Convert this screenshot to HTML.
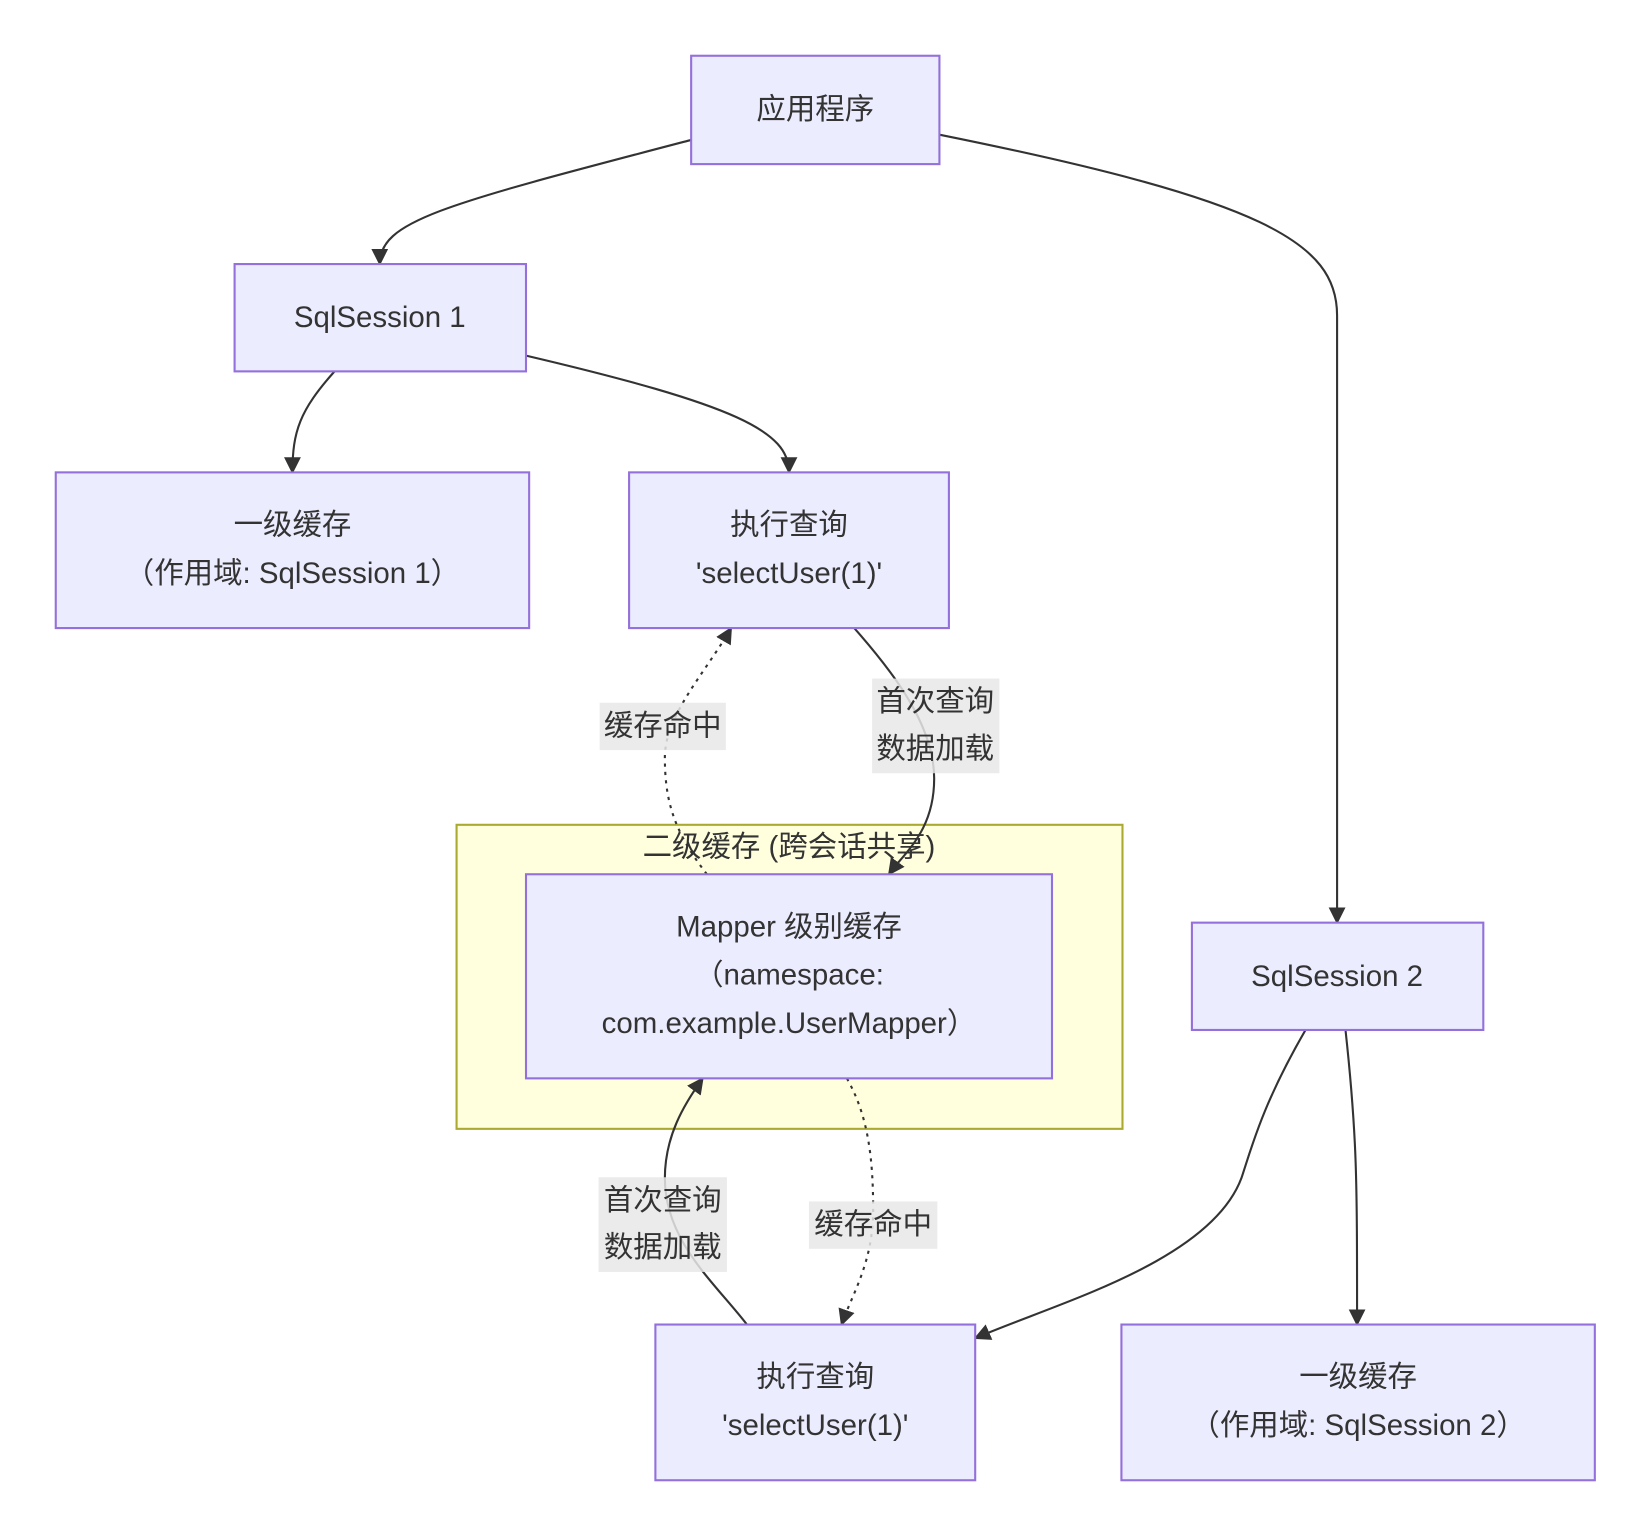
<!DOCTYPE html>
<html><head><meta charset="utf-8"><style>
html,body{margin:0;padding:0;background:#fff;}
svg{display:block;}
text{font-family:"Liberation Sans","Noto Sans CJK SC",sans-serif;font-size:28px;fill:#333;text-anchor:middle;dominant-baseline:central;}
.n{fill:#ececff;stroke:#9370db;stroke-width:2;}
.e{fill:none;stroke:#333;stroke-width:2;}
.d{stroke-dasharray:3 5;}
.lb{fill:#e8e8e8;opacity:0.85;}
</style></head><body>
<svg width="1649" height="1536" viewBox="0 0 1567.5 1460" preserveAspectRatio="none" xmlns="http://www.w3.org/2000/svg">
<defs><marker id="a" viewBox="0 0 10 10" refX="9" refY="5" markerWidth="8" markerHeight="8" orient="auto"><path d="M0,0L10,5L0,10z" fill="#333"/></marker></defs>

<rect x="434" y="784" width="633" height="289" fill="#ffffde" stroke="#aaaa33" stroke-width="2"/>
<text x="750" y="805">二级缓存 (跨会话共享)</text>

<path class="e" marker-end="url(#a)" d="M657,133 C420,195 361,210 361,251"/>
<path class="e" marker-end="url(#a)" d="M893,128 C1200,190 1271,230 1271,300 L1271,877"/>
<path class="e" marker-end="url(#a)" d="M318,353 C285,390 278,410 278,449"/>
<path class="e" marker-end="url(#a)" d="M500,338 C700,385 750,410 750,449"/>
<path class="e" marker-end="url(#a)" d="M812,597 C850,640 888,690 888,740 C888,790 860,810 845,831"/>
<path class="e d" marker-end="url(#a)" d="M672,831 C640,790 632,760 632,720 C632,680 670,640 695,597"/>
<path class="e" marker-end="url(#a)" d="M710,1259 C680,1220 632,1180 632,1120 C632,1080 650,1050 668,1025"/>
<path class="e d" marker-end="url(#a)" d="M805,1025 C825,1060 830,1100 830,1150 C830,1200 810,1230 800,1259"/>
<path class="e" marker-end="url(#a)" d="M1241,979 C1200,1050 1190,1090 1180,1120 C1150,1200 1000,1240 927,1272"/>
<path class="e" marker-end="url(#a)" d="M1279,979 C1290,1080 1290,1120 1290,1259"/>

<rect class="lb" x="570" y="668" width="120" height="45"/>
<text x="630" y="690">缓存命中</text>
<rect class="lb" x="829" y="645" width="121" height="90"/>
<text x="889" y="667">首次查询</text><text x="889" y="712">数据加载</text>
<rect class="lb" x="569" y="1119" width="122" height="90"/>
<text x="630" y="1141">首次查询</text><text x="630" y="1186">数据加载</text>
<rect class="lb" x="769" y="1142" width="122" height="45"/>
<text x="830" y="1164">缓存命中</text>

<rect class="n" x="657" y="53" width="236" height="103"/>
<text x="775" y="104">应用程序</text>
<rect class="n" x="223" y="251" width="277" height="102"/>
<text x="361" y="302">SqlSession 1</text>
<rect class="n" x="53" y="449" width="450" height="148"/>
<text x="278" y="499">一级缓存</text><text x="278" y="545">（作用域: SqlSession 1）</text>
<rect class="n" x="598" y="449" width="304" height="148"/>
<text x="750" y="499">执行查询</text><text x="750" y="545">'selectUser(1)'</text>
<rect class="n" x="500" y="831" width="500" height="194"/>
<text x="750" y="881">Mapper 级别缓存</text><text x="750" y="927">（namespace:</text><text x="750" y="973">com.example.UserMapper）</text>
<rect class="n" x="1133" y="877" width="277" height="102"/>
<text x="1271" y="928">SqlSession 2</text>
<rect class="n" x="623" y="1259" width="304" height="148"/>
<text x="775" y="1309">执行查询</text><text x="775" y="1355">'selectUser(1)'</text>
<rect class="n" x="1066" y="1259" width="450" height="148"/>
<text x="1291" y="1309">一级缓存</text><text x="1291" y="1355">（作用域: SqlSession 2）</text>
</svg>
</body></html>
